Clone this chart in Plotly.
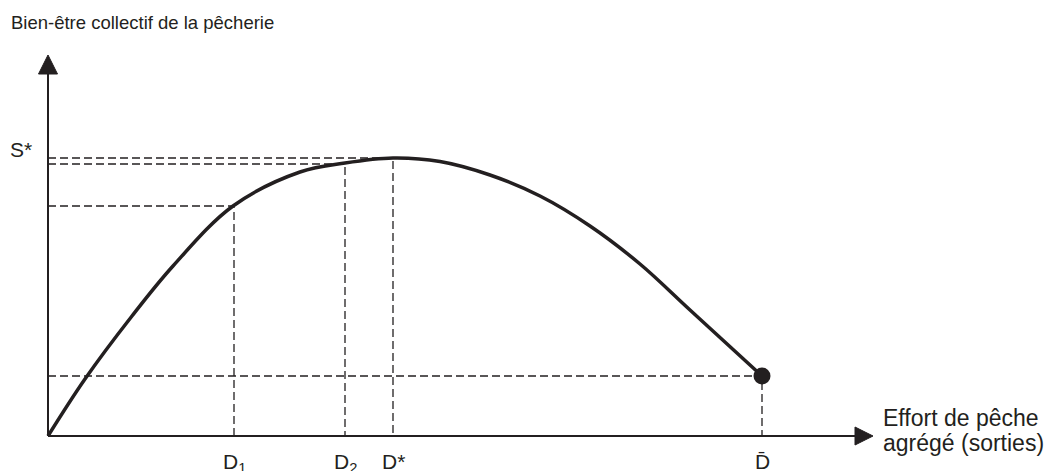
import plotly.graph_objects as go

# effort (x) and welfare (y) (units ~ pixels from the origin)
effort = [0, 37, 84, 125, 185, 252, 297, 345, 392, 442, 492, 542, 592, 642, 714]
welfare = [0, 57, 120, 170, 230, 264, 273, 278, 274.5, 261, 240, 210, 172, 126, 60]

# reference points on the curve
d_labels = ["D<sub>1</sub>", "D<sub>2</sub>", "D*"]
d_x = [186, 297, 345]
d_y = [230, 272, 278]
dbar_x = 714
dbar_y = 60
s_star = 278

ink = "#231f20"
fam = "Liberation Sans, Arial, sans-serif"

fig = go.Figure()

# dashed guides
for x, y in zip(d_x + [dbar_x], d_y + [dbar_y]):
    fig.add_trace(go.Scatter(x=[0, x, x], y=[y, y, 0], mode="lines",
                             line=dict(color=ink, width=1.3, dash="8px,4px"),
                             hoverinfo="skip", showlegend=False))

# the curve
fig.add_trace(go.Scatter(x=effort, y=welfare, mode="lines",
                         line=dict(color=ink, width=3.5, shape="spline", smoothing=1),
                         showlegend=False))
fig.add_trace(go.Scatter(x=[dbar_x], y=[dbar_y], mode="markers",
                         marker=dict(color=ink, size=17),
                         showlegend=False, cliponaxis=False))

# axes with arrow heads
x_end, y_end = 825, 381
fig.add_shape(type="line", x0=0, y0=0, x1=x_end - 15, y1=0, line=dict(color=ink, width=2))
fig.add_shape(type="line", x0=0, y0=0, x1=0, y1=y_end - 15, line=dict(color=ink, width=2))
fig.add_shape(type="path", path=f"M {x_end-18},9 L {x_end},0 L {x_end-18},-9 Z",
              fillcolor=ink, line=dict(color=ink, width=1))
fig.add_shape(type="path", path=f"M -9.5,{y_end-19} L 0,{y_end} L 9.5,{y_end-19} Z",
              fillcolor=ink, line=dict(color=ink, width=1))

# labels
lab_font = dict(family=fam, size=21, color=ink)
for lab, x in zip(d_labels, d_x):
    fig.add_annotation(x=x, y=-12, text=lab, showarrow=False, font=lab_font,
                       xanchor="center", yanchor="top")
fig.add_annotation(x=dbar_x, y=-12, text="D\u0304", showarrow=False, font=lab_font,
                   xanchor="center", yanchor="top")
fig.add_annotation(x=-40, y=s_star + 9, text="S*", showarrow=False, font=lab_font,
                   xanchor="left", yanchor="middle")

big = dict(family=fam, size=23, color=ink)
fig.add_annotation(x=x_end + 8, y=18, text="Effort de pêche", showarrow=False,
                   font=big, xanchor="left", yanchor="middle")
fig.add_annotation(x=x_end + 8, y=-7, text="agrégé (sorties)", showarrow=False,
                   font=big, xanchor="left", yanchor="middle")
fig.add_annotation(x=-39, y=414, text="Bien-être collectif de la pêcherie", showarrow=False,
                   font=dict(family=fam, size=18.5, color=ink), xanchor="left", yanchor="middle")

# annotations outside the axis range get hidden, so the ranges reach the page edges
fig.update_xaxes(range=[-40, 842], visible=False)
fig.update_yaxes(range=[-14, 428], visible=False)
# the page adds an 8px body margin, so the figure is pulled up/left by that much
fig.update_layout(width=1054, height=471, margin=dict(l=0, r=172, t=0, b=29),
                  plot_bgcolor="white", paper_bgcolor="white")

fig.write_html("out.html")
